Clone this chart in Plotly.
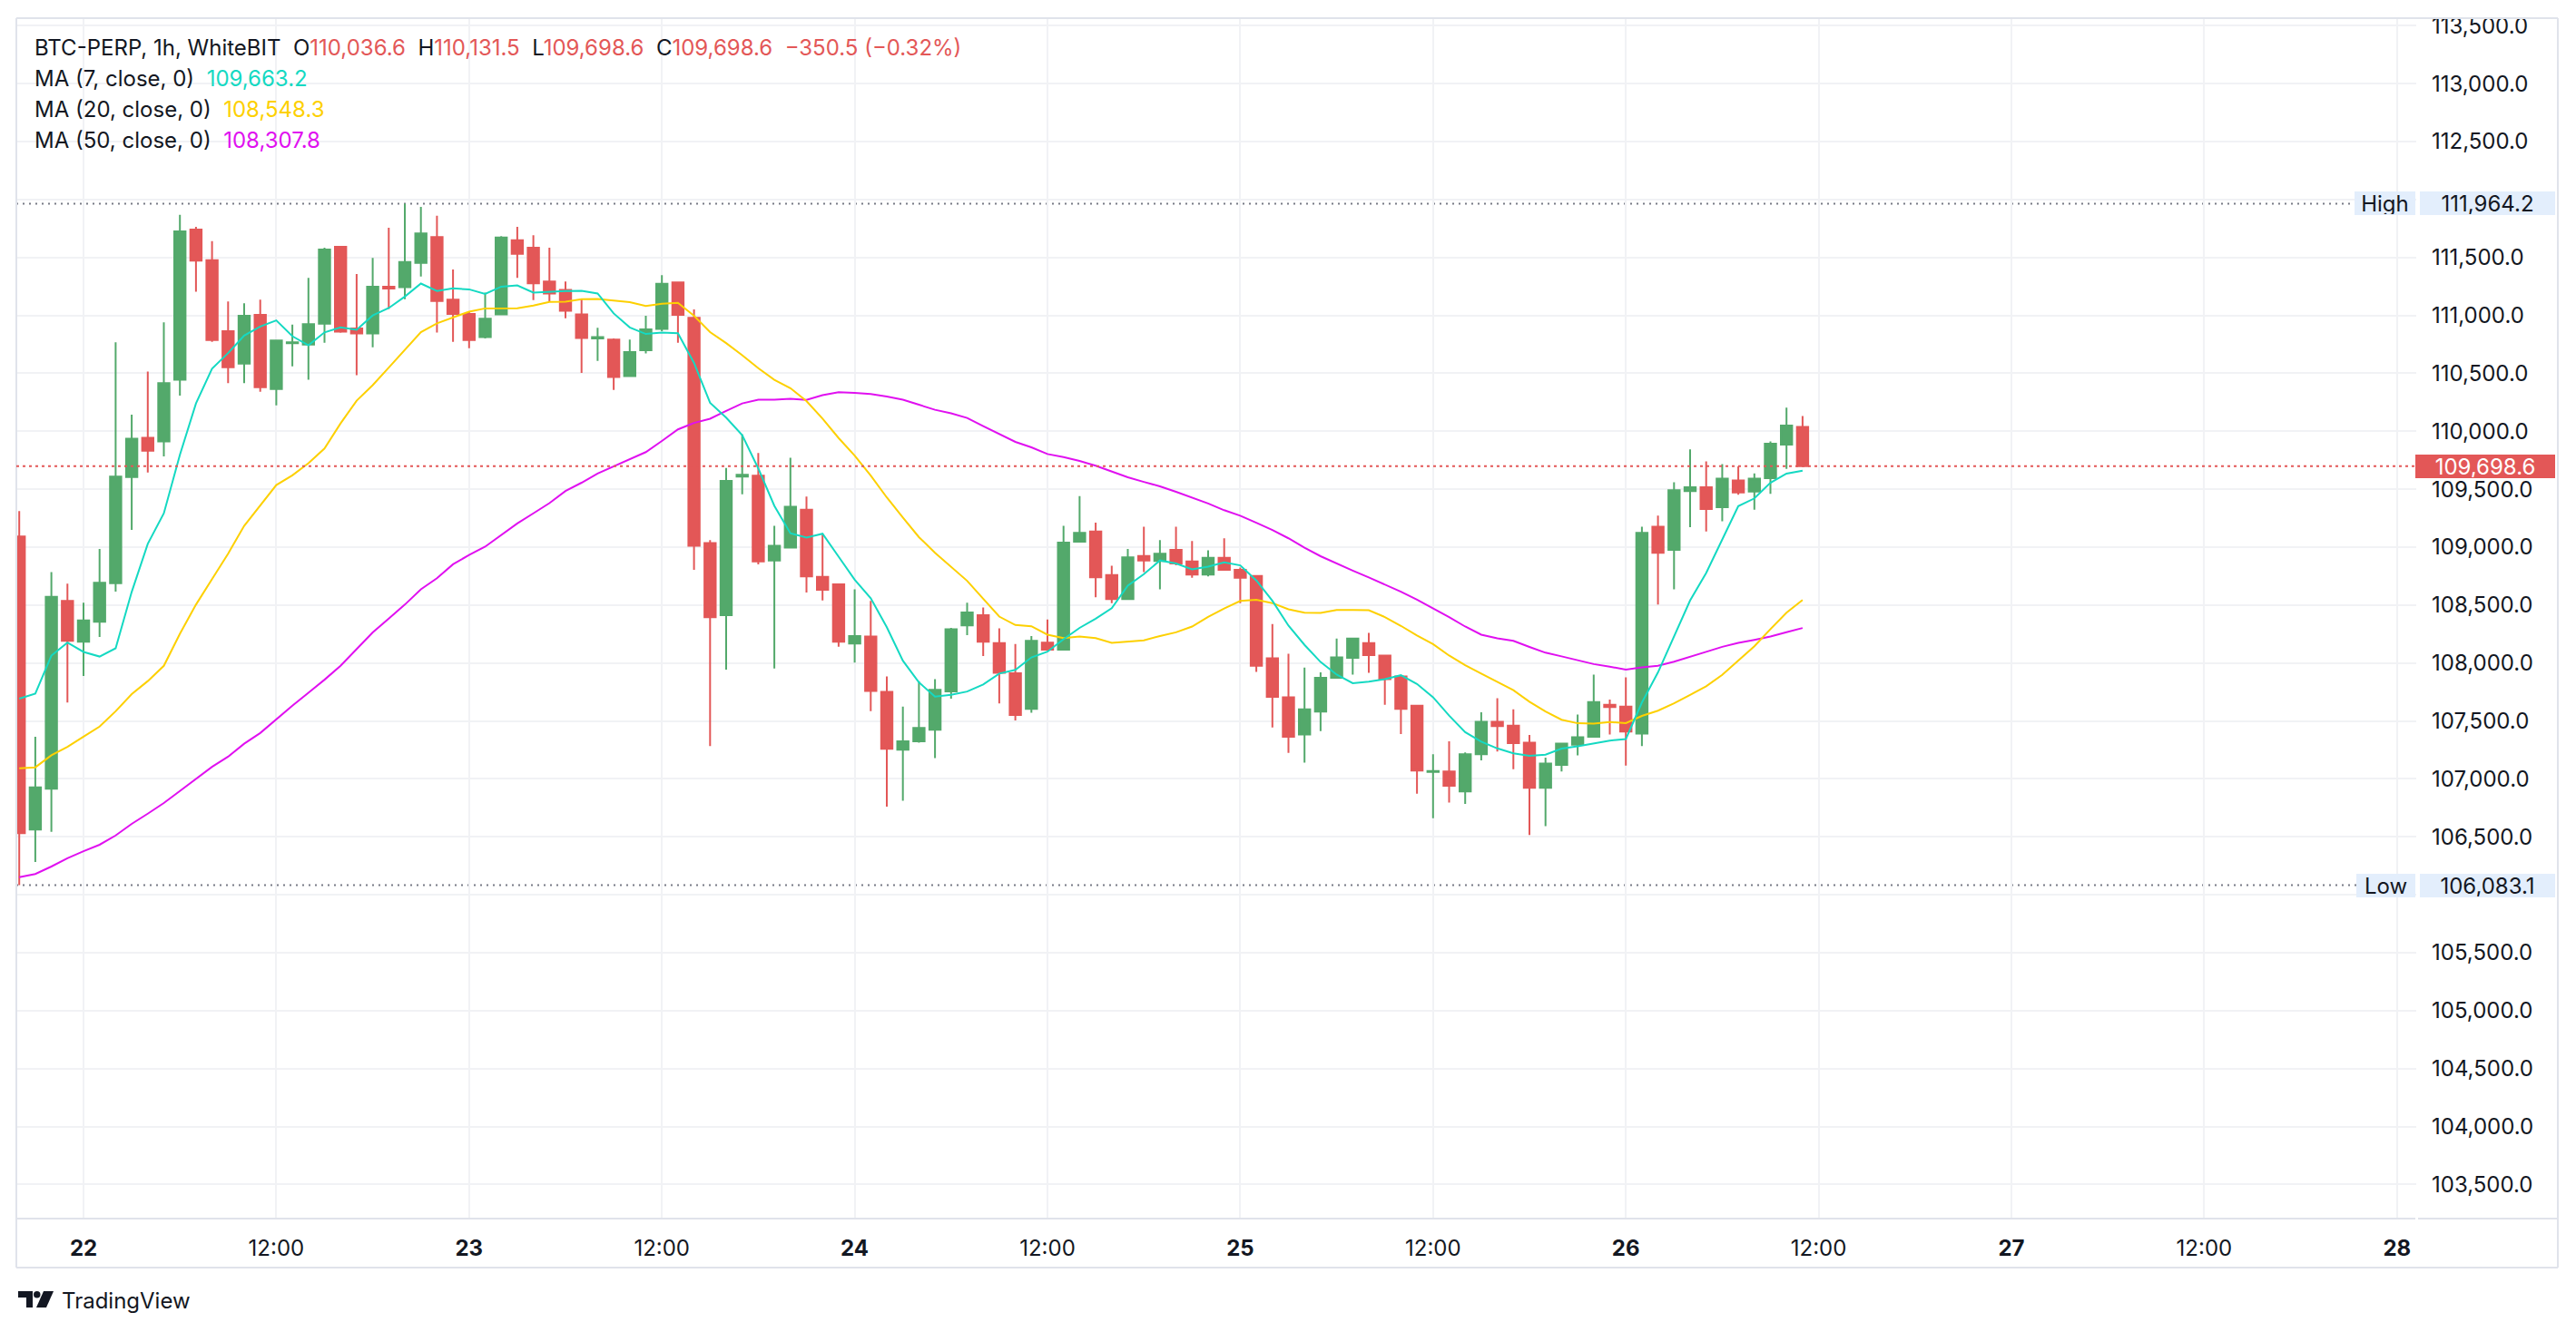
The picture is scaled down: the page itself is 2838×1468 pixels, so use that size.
import numpy as np
import pandas as pd
import plotly.graph_objects as go

# ---------------- data ----------------
start_time = "2025-10-21 20:00"

opens = [109092, 106564, 106916, 108536, 108184, 108356, 108688, 109604, 109944, 109912,
         110444, 111740, 111476, 110864, 110584, 111004, 110364, 110760, 110748, 110928,
         111592, 110888, 110844, 111248, 111244, 111452, 111676, 111136, 111012, 110812,
         111008, 111648, 111584, 111292, 111220, 111008, 110800, 110792, 110476, 110700,
         110884, 111284, 110980, 109036, 108412, 109608, 109616, 108884, 108996, 109324,
         108744, 108680, 108168, 108228, 107752, 107252, 107324, 107424, 107756, 108324,
         108412, 108172, 107912, 107604, 108176, 108116, 109048, 109136, 108760, 108552,
         108924, 108880, 108976, 108876, 108764, 108908, 108804, 108752, 108040, 107704,
         107384, 107580, 107872, 108044, 108172, 108064, 107884, 107632, 107060, 107064,
         106892, 107212, 107492, 107460, 107312, 106924, 107120, 107296, 107364, 107640,
         107624, 107392, 109176, 108976, 109484, 109516, 109344, 109576, 109480, 109596,
         109884, 110036.6]
highs = [109312, 107364, 108784, 108684, 108520, 108984, 110768, 110144, 110516, 110940,
         111868, 111764, 111640, 111120, 111104, 111136, 110792, 110920, 111324, 111584,
         111600, 111356, 111496, 111756, 111964.2, 111936, 111860, 111396, 111036, 111196,
         111684, 111764, 111692, 111584, 111292, 111144, 110892, 110800, 110792, 110996,
         111348, 111290, 111052, 109060, 109684, 109972, 109812, 109184, 109772, 109436,
         109116, 108684, 108636, 108536, 107884, 107624, 107844, 107860, 108304, 108520,
         108480, 108300, 108164, 108232, 108376, 109184, 109440, 109212, 108840, 108984,
         109176, 109060, 109176, 109052, 108972, 109076, 108824, 108760, 108336, 108080,
         107960, 107920, 108212, 108216, 108260, 108070, 107890, 107640, 107212, 107324,
         107228, 107576, 107696, 107600, 107380, 107184, 107310, 107556, 107900, 107684,
         107876, 109176, 109272, 109560, 109844, 109740, 109716, 109696, 109636, 109912,
         110204, 110131.5]
lows = [106083.1, 106284, 106544, 107660, 107888, 108224, 108616, 109148, 109644, 109784,
        110308, 111204, 110772, 110416, 110416, 110340, 110224, 110560, 110444, 110764,
        110850, 110484, 110724, 111056, 111140, 111336, 110852, 110772, 110716, 110800,
        111000, 111324, 111132, 111116, 110976, 110504, 110608, 110356, 110470, 110672,
        110864, 110764, 108804, 107284, 107944, 109456, 108852, 107952, 108990, 108608,
        108540, 108140, 108004, 107584, 106760, 106812, 107312, 107180, 107692, 108240,
        108060, 107652, 107504, 107572, 108110, 108110, 109040, 108568, 108516, 108548,
        108784, 108636, 108844, 108736, 108748, 108800, 108516, 107924, 107444, 107224,
        107140, 107412, 107868, 107900, 107916, 107640, 107388, 106872, 106660, 106796,
        106784, 107160, 107236, 107084, 106516, 106592, 107064, 107204, 107360, 107384,
        107116, 107284, 108504, 108636, 109172, 109136, 109224, 109452, 109324, 109460,
        109676, 109698.6]
closes = [106532, 106928, 108572, 108192, 108368, 108692, 109608, 109936, 109832, 110416,
          111724, 111472, 110788, 110552, 110996, 110380, 110784, 110768, 110924, 111568,
          110860, 110844, 111248, 111232, 111460, 111708, 111124, 111012, 110788, 110972,
          111672, 111532, 111276, 111188, 111040, 110804, 110812, 110468, 110684, 110880,
          111272, 111004, 109012, 108396, 109572, 109624, 108876, 109012, 109348, 108748,
          108632, 108184, 108232, 107760, 107260, 107324, 107440, 107768, 108292, 108436,
          108184, 107916, 107552, 108192, 108116, 109040, 109124, 108740, 108552, 108912,
          108884, 108944, 108860, 108764, 108908, 108804, 108736, 107976, 107708, 107364,
          107600, 107872, 108048, 108212, 108068, 107860, 107604, 107072, 107068, 106940,
          107212, 107492, 107456, 107308, 106924, 107132, 107304, 107360, 107664, 107620,
          107408, 109124, 108952, 109492, 109516, 109328, 109592, 109472, 109592, 109892,
          110049.1, 109698.6]

# moving-average values for the bars that precede a full window
ma7_head = [107692, 107736, 108064, 108176, 108096, 108056]
ma20_head = [107092, 107100, 107204, 107276, 107364, 107452, 107584, 107732, 107844, 107976,
             108252, 108504, 108724, 108944, 109184, 109364, 109536, 109620, 109724]
ma50_head = [106152, 106180, 106244, 106316, 106376, 106432, 106512, 106612, 106700, 106792,
             106896, 107000, 107104, 107192, 107304, 107396, 107516, 107632, 107744, 107856,
             107976, 108116, 108264, 108384, 108504, 108636, 108732, 108852, 108932, 109004,
             109104, 109204, 109292, 109380, 109484, 109556, 109636, 109696, 109760, 109820,
             109916, 110016, 110072, 110108, 110176, 110240, 110272, 110272, 110280]
ma_legend_names = ["MA (7, close, 0)", "MA (20, close, 0)", "MA (50, close, 0)"]
ma_legend_values = ["109,663.2", "108,548.3", "108,307.8"]

session_high = 111964.2
session_low = 106083.1

price_ticks = list(range(103500, 114000, 500))
hidden_price_labels = [112000, 106000]  # covered by the High / Low value tags
time_tick_labels = ["22", "12:00", "23", "12:00", "24", "12:00", "25", "12:00",
                    "26", "12:00", "27", "12:00", "28"]

# ---------------- styling ----------------
UP = "#53a96b"
DOWN = "#e35757"
C_MA7 = "#14d9c2"
C_MA20 = "#fdd000"
C_MA50 = "#e010f0"
GRID = "#f1f2f5"
BORDER = "#e0e3eb"
TXT = "#131722"
FONT = "Inter"
FS = 24

W, H = 2838, 1468
PL, PR, PT, PB = 18, 2662, 20, 1343  # plot area in pixels


def px(x):
    return (x - PL) / (PR - PL)


def py(y):
    return (PB - y) / (PB - PT)


times = pd.date_range(start_time, periods=len(closes), freq="h")
c = pd.Series(closes, dtype=float)


def moving_average(n, head):
    r = c.rolling(n).mean().to_numpy()
    r[: n - 1] = head
    return r


ma7 = moving_average(7, ma7_head)
ma20 = moving_average(20, ma20_head)
ma50 = moving_average(50, ma50_head)

fig = go.Figure()
fig.add_trace(go.Candlestick(
    x=times, open=opens, high=highs, low=lows, close=closes,
    increasing=dict(line=dict(color=UP, width=2), fillcolor=UP),
    decreasing=dict(line=dict(color=DOWN, width=2), fillcolor=DOWN),
    whiskerwidth=0, hoverinfo="skip", showlegend=False,
))
for vals, col in [(ma50, C_MA50), (ma20, C_MA20), (ma7, C_MA7)]:
    fig.add_trace(go.Scatter(x=times, y=vals, mode="lines",
                             line=dict(color=col, width=2), hoverinfo="skip",
                             showlegend=False))

t0 = pd.Timestamp("2025-10-22 00:00")
px_per_hour = 17.70
x_left = t0 - pd.Timedelta(hours=(92 - PL) / px_per_hour)
x_right = t0 + pd.Timedelta(hours=(PR - 92) / px_per_hour)
tickvals = pd.date_range("2025-10-22 00:00", "2025-10-28 00:00", freq="12h")
ticktext = [f"<b>{t}</b>" if ":" not in t else t for t in time_tick_labels]

y_lo = session_low - (PB - 975.6) / 0.12770
y_hi = session_high + (224.4 - PT) / 0.12770

fig.update_layout(
    width=W, height=H,
    margin=dict(l=PL, r=W - PR, t=PT, b=H - PB),
    paper_bgcolor="white", plot_bgcolor="white",
    showlegend=False, boxgap=0.3, boxgroupgap=0,
    font=dict(family=FONT, color=TXT, size=FS),
    xaxis=dict(type="date", range=[x_left, x_right], rangeslider=dict(visible=False),
               tickmode="array", tickvals=tickvals, ticktext=ticktext,
               showgrid=True, gridcolor=GRID, gridwidth=2, zeroline=False,
               showline=False, ticks="", ticklabelstandoff=16,
               tickfont=dict(family=FONT, size=FS, color=TXT), fixedrange=True),
    yaxis=dict(side="right", range=[y_lo, y_hi], tickmode="array", tickvals=price_ticks,
               ticktext=["" if v in hidden_price_labels else f"{v:,.1f}" for v in price_ticks],
               showgrid=True, gridcolor=GRID, gridwidth=2, zeroline=False,
               showline=False, ticks="", ticklabelstandoff=16,
               tickfont=dict(family=FONT, size=FS, color=TXT), fixedrange=True),
)

shapes = []
# frame
for (x0, y0, x1, y1) in [(PL, PT, 2818, PT), (PL, PT, PL, 1397), (2818, PT, 2818, 1397),
                         (PL, 1397, 2818, 1397), (PL, PB, PR - 1, PB), (PR + 2, PB, 2818, PB)]:
    shapes.append(dict(type="line", xref="paper", yref="paper", x0=px(x0), y0=py(y0),
                       x1=px(x1), y1=py(y1), line=dict(color=BORDER, width=2), layer="above"))
# high / low / last price lines
shapes.append(dict(type="line", xref="paper", yref="y", x0=0, x1=px(2594),
                   y0=session_high, y1=session_high,
                   line=dict(color="#787b86", width=2, dash="2px,5px"), layer="below"))
shapes.append(dict(type="line", xref="paper", yref="y", x0=0, x1=px(2596),
                   y0=session_low, y1=session_low,
                   line=dict(color="#787b86", width=2, dash="2px,5px"), layer="below"))
shapes.append(dict(type="line", xref="paper", yref="y", x0=0, x1=1,
                   y0=closes[-1], y1=closes[-1],
                   line=dict(color=DOWN, width=2, dash="3px,4px"), layer="above"))


# TradingView logo
def poly(pts):
    return "M " + " L ".join(f"{px(a):.5f},{py(b):.5f}" for a, b in pts) + " Z"


shapes.append(dict(type="path", xref="paper", yref="paper",
                   path=poly([(20, 1423), (36, 1423), (36, 1441), (29, 1441), (29, 1430), (20, 1430)]),
                   fillcolor=TXT, line=dict(width=0)))
shapes.append(dict(type="circle", xref="paper", yref="paper",
                   x0=px(37), x1=px(44.5), y0=py(1430.5), y1=py(1423),
                   fillcolor=TXT, line=dict(width=0)))
shapes.append(dict(type="path", xref="paper", yref="paper",
                   path=poly([(48, 1423), (59, 1423), (51, 1441), (40, 1441)]),
                   fillcolor=TXT, line=dict(width=0)))
fig.update_layout(shapes=shapes)

# ---------------- annotations ----------------
ann = []
nb = "\u00a0"


def red(s):
    return f"<span style='color:{DOWN}'>{s}</span>"


chg = closes[-1] - closes[-2]
pct = chg / closes[-2] * 100
sign = "\u2212" if chg < 0 else "+"
line1 = ("BTC-PERP, 1h, WhiteBIT" + nb * 2 + "O" + red(f"{opens[-1]:,.1f}") + nb * 2 +
         "H" + red(f"{highs[-1]:,.1f}") + nb * 2 + "L" + red(f"{lows[-1]:,.1f}") + nb * 2 +
         "C" + red(f"{closes[-1]:,.1f}") + nb * 2 +
         red(f"{sign}{abs(chg):,.1f} ({sign}{abs(pct):.2f}%)"))
ann.append(dict(text=line1, x=px(36), y=py(52)))
for i, (name, val, col) in enumerate(zip(ma_legend_names, ma_legend_values, [C_MA7, C_MA20, C_MA50])):
    ann.append(dict(text=f"{name}{nb * 2}<span style='color:{col}'>{val}</span>",
                    x=px(36), y=py(87 + i * 33.5)))
for a in ann:
    a.update(xref="paper", yref="paper", xanchor="left", yanchor="middle", showarrow=False,
             font=dict(family=FONT, size=FS, color=TXT), align="left")

LB = "#e3eefc"
boxes = [
    ("High", session_high, 2594, 2661, LB, TXT),
    (f"{session_high:,.1f}", session_high, 2666, 2815, LB, TXT),
    ("Low", session_low, 2596, 2661, LB, TXT),
    (f"{session_low:,.1f}", session_low, 2666, 2815, LB, TXT),
    (f"{closes[-1]:,.1f}", closes[-1], 2661, 2815, DOWN, "white"),
]
for text, yv, x0, x1, bg, fc in boxes:
    ann.append(dict(text=text, xref="paper", yref="y", x=px(x0), y=yv, xanchor="left",
                    yanchor="middle", showarrow=False, bgcolor=bg, borderpad=1, borderwidth=0,
                    width=x1 - x0 - 2, height=24, align="center",
                    font=dict(family=FONT, size=FS, color=fc)))

ann.append(dict(text="TradingView", xref="paper", yref="paper", x=px(66), y=py(1433),
                xanchor="left", yanchor="middle", showarrow=False,
                font=dict(family=FONT, size=24, color=TXT)))
fig.update_layout(annotations=ann)

fig.write_html("out.html", config={"displayModeBar": False, "staticPlot": True})
